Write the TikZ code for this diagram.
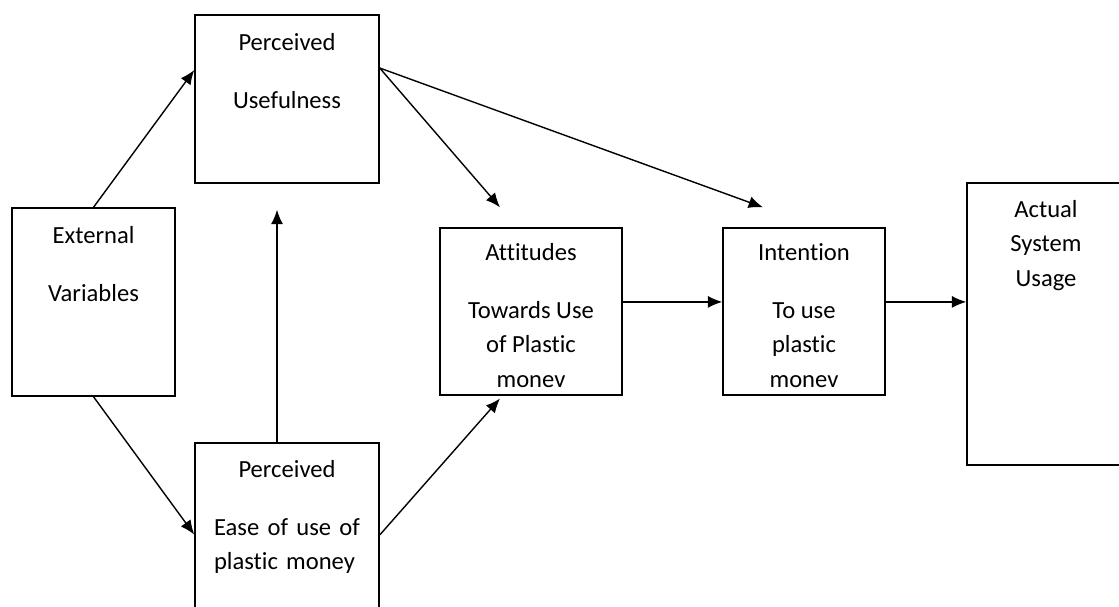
\documentclass[tikz,border=0pt]{standalone}
\usepackage{fontspec}
\setmainfont[Ligatures=NoCommon]{Carlito}
\usepackage{tikz}
\usetikzlibrary{positioning, arrows.meta, calc}

\begin{document}
\begin{tikzpicture}[
	box/.style={draw, rectangle, line width=0.035cm, text centered},
	lbl/.style={inner sep=0pt, align=center, font=\fontsize{17.5}{24.5}\selectfont},
	arr/.style={line width=0.035cm, -{Latex[length=0.36cm, width=0.3cm]}}]
			
			\useasboundingbox (0,0) rectangle (27.975,-15.15);
			
			\node (ext) at (2.3375,-7.55) [box, minimum width=4.075cm, minimum height=4.7cm]{};
			\node (extText) [lbl, anchor=north, below=0.46cm of ext.north]{External\\[16.8pt]Variables};
			
			\node (pu) at (7.175,-2.475) [box, minimum width=4.6cm, minimum height=4.2cm]{};
			\node (puText) [lbl, anchor=north, below=0.46cm of pu.north]{Perceived\\[16.8pt]Usefulness};
			
			\node (pe) at (7.175,-13.175) [box, minimum width=4.6cm, minimum height=4.2cm]{};
			\node (peText) [lbl, anchor=north, below=0.44cm of pe.north, align=left, text width=3.65cm]
			{\makebox[3.65cm]{Perceived}\\[16.8pt]Ease\hfill of\hfill use\hfill of\\plastic money};
			
			\node (att) at (13.275,-7.7875) [box, minimum width=4.55cm, minimum height=4.175cm]{};
			\node (attText) [lbl, anchor=north, below=0.39cm of att.north]{Attitudes\\[16.8pt]Towards Use\\of Plastic\\monev};
			
			\node (int) at (20.1,-7.7875) [box, minimum width=4.05cm, minimum height=4.175cm]{};
			\node (intText) [lbl, anchor=north, below=0.39cm of int.north]{Intention\\[16.8pt]To use\\plastic\\monev};
			
			\node (asu) at (26.15,-8.1) [box, minimum width=3.95cm, minimum height=7.05cm]{};
			\node (asuText) [lbl, anchor=north, below=0.44cm of asu.north]{Actual\\System\\Usage};
			
			\coordinate (attIn) at ([xshift=-0.775cm, yshift=0.5cm]att.north);
			\coordinate (intIn) at ([xshift=-1.025cm, yshift=0.5cm]int.north);
			
			\draw[arr] (ext.north) -- ([yshift=0.725cm]pu.west);
			\draw[arr] (ext.south) -- ([yshift=-0.19cm]pe.west);
			\draw[arr, shorten >=0.65cm] ([xshift=-0.25cm]pe.north) -- ([xshift=-0.25cm]pu.south);
			
			\draw[arr] ([yshift=0.775cm]pu.east) -- (attIn);
			\draw[arr] ([yshift=0.775cm]pu.east) -- (intIn);
			\draw[arr] ([yshift=-0.2cm]pe.east) -- ([xshift=-0.775cm, yshift=-0.07cm]att.south);
			
			\draw[arr] ([yshift=0.24cm]att.east) -- ([yshift=0.24cm]int.west);
			\draw[arr] ([yshift=0.24cm]int.east) coordinate (intOut) -- (intOut -| asu.west);
			
\end{tikzpicture}
\end{document}
